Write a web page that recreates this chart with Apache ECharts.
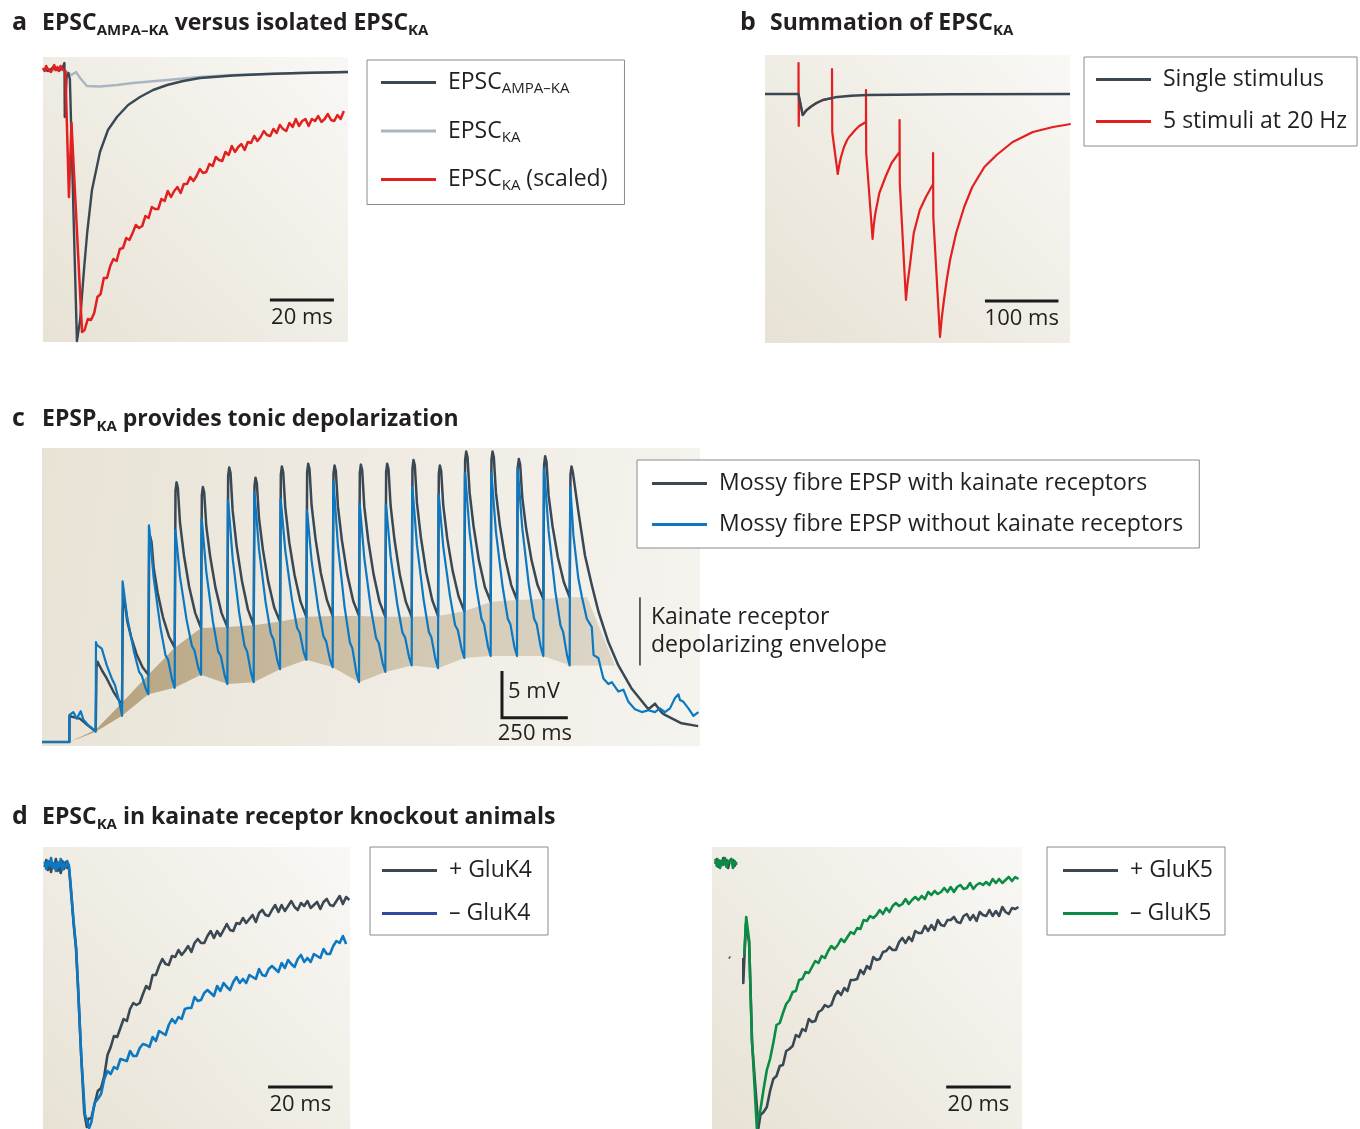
<!DOCTYPE html>
<html><head><meta charset="utf-8">
<script src="https://cdn.jsdelivr.net/npm/echarts@6/dist/echarts.min.js"></script>
<style>html,body{margin:0;padding:0;background:#fff}#c{width:1360px;height:1129px}</style>
</head><body><div id="c"></div>
<script>
// ---------------- DATA ----------------
// Panel a (x: ms, y: pA relative to baseline)
const aAmpaKa = [[0,1],[1.5,-1],[3,2],[4.5,0],[6,1],[6.6,2],[6.7,7],[6.8,-47],[7.4,-6],[7.9,-3],[8.4,-9],[10.6,-271],[11.6,-250],[12.8,-200],[13.8,-163],[15.3,-120],[17.8,-82],[20.3,-60],[23.1,-47],[26.6,-35],[30.3,-27],[34.4,-20],[38.8,-15],[43.8,-11],[49.1,-8],[59.4,-5.5],[70,-4],[80.3,-3],[95.3,-2]];
const aKa = [[0,0],[6.5,0],[8.9,-5],[10.3,-2],[11.6,-8],[13.7,-16],[17.8,-16.5],[23.1,-15],[28.1,-13],[38.8,-10],[49.1,-7],[59.4,-5],[70,-4],[80.3,-3],[95.3,-2]];
const aKaScaled = [[0,2],[0.5,-1],[1,4],[1.5,1],[2,3],[2.5,-2],[3,2],[3.5,5],[4,0],[4.5,3],[5,-1],[5.5,4],[6,1],[6.5,3],[7,-1],[7.3,0],[8.1,-127],[8.9,-53],[12.2,-262],
 [13,-260],[14,-249],[15,-250],[16,-243],[17,-227],[18,-224],[19,-208],[20,-208],[21,-196],[22,-189],[23,-191],[24,-179],[25,-178],[26,-168],[27,-170],[28,-163],[29,-155],[30,-158],[31,-156],[32,-146],[33,-148],[34,-137],[35,-139],[36,-139],[37,-129],[38,-131],[39,-121],[40,-127],[41,-121],[42,-117],[43,-123],[44,-114],[45,-114],[46,-107],[47,-111],[48,-106],[49,-99],[50,-103],[51,-102],[52,-94],[53,-96],[54,-87],[55,-90],[56,-91],[57,-82],[58,-85],[59,-76],[60,-82],[61,-77],[62,-74],[63,-80],[64,-72],[65,-73],[66,-66],[67,-71],[68,-67],[69,-61],[70,-65],[71,-66],[72,-59],[73,-63],[74,-55],[75,-59],[76,-61],[77,-53],[78,-57],[79,-49],[80,-56],[81,-51],[82,-49],[83,-56],[84,-49],[85,-51],[86,-46],[87,-52],[88,-49],[89,-44],[90,-50],[91,-51],[92,-45],[93,-49],[94,-41]];
const aScaleBar = [[70.9,-230],[90.9,-230]];

// Panel b (x: ms, y: pA)
const bSingle = [[0,0],[45.6,0],[51.3,-21],[56,-16.5],[62.3,-12.7],[70,-9],[78.8,-6],[95.2,-3.3],[117,-1.7],[139.2,-1],[251.7,-0.3],[415,0]];
const bTrain = [[0,0],[45.6,0],[45.6,31],[45.9,-32],[46.4,-4],[51.3,-21],[56,-16.5],[62.3,-12.7],[70,-9],[78.8,-6],[91.2,-4],
 [91.2,25],[91.5,-38],[99,-80],[101,-71],[103.4,-63],[107.5,-53],[111.7,-46],[114.4,-43],[122.7,-36],[128.2,-32],[137.4,-28],
 [137.4,4],[137.7,-59],[146.4,-145],[148,-131],[150.2,-119],[155.6,-99],[163.9,-83],[172.2,-69],[183.1,-58],
 [183.1,-26],[183.4,-89],[191.8,-206],[194,-189],[196.9,-173],[202.4,-139],[210.6,-116],[218.9,-103],[228.7,-90],
 [228.7,-59],[229,-123],[238.1,-243],[240.5,-224],[243.5,-206],[247.5,-185],[251.8,-166],[260.1,-139],[271,-113],[282,-93],[298.5,-73],[315.1,-61],[337,-48],[364.5,-38],[392,-33],[416,-30]];
const bScaleBar = [[299.3,-207],[399.3,-207]];

// Panel c (x: ms, y: mV above rest)
const cWithKA = [[-4,0],[100,0],[100.5,2.8],[110,2.7],[140,2.5],[170,1.8],[192,1.3],
 [200,1.3],[203,8.0],[207,8.6],[212,8.3],[225,7.6],[242,6.8],[267,5.4],[292,4.3],
 [300,4.2],[303,14.3],[307,15.2],[312,14.6],[320,12.9],[335,11.2],[355,9.4],[378,8.0],
 [400,7.2],[403,21.1],[407,22.0],[412,21.4],[420,18.7],[435,16.0],[455,13.4],[478,11.3],
 [500,10.1],[503,26.9],[507,27.8],[512,27.2],[520,23.5],[535,20.0],[555,16.6],[578,13.8],
 [600,12.2],[603,26.4],[607,27.3],[612,26.7],[620,23.1],[635,19.8],[655,16.5],[678,13.8],
 [700,12.3],[703,28.5],[707,29.4],[712,28.8],[720,24.8],[735,21.0],[755,17.3],[778,14.2],
 [800,12.5],[803,27.4],[807,28.3],[812,27.7],[820,24.0],[835,20.6],[855,17.2],[878,14.4],
 [900,12.9],[903,28.6],[907,29.5],[912,28.9],[920,25.1],[935,21.4],[955,17.9],[978,15.0],
 [1000,13.4],[1003,28.9],[1007,29.8],[1012,29.2],[1020,25.3],[1035,21.7],[1055,18.1],[1078,15.2],
 [1100,13.5],[1103,28.7],[1107,29.6],[1112,29.0],[1120,25.2],[1135,21.6],[1155,18.0],[1178,15.1],
 [1200,13.5],[1203,28.8],[1207,29.7],[1212,29.1],[1220,25.2],[1235,21.6],[1255,18.0],[1278,15.0],
 [1300,13.4],[1303,28.9],[1307,29.8],[1312,29.2],[1320,25.3],[1335,21.6],[1355,17.9],[1378,15.0],
 [1400,13.4],[1403,29.3],[1407,30.2],[1412,29.6],[1420,25.6],[1435,21.9],[1455,18.2],[1478,15.2],
 [1500,13.5],[1503,28.7],[1507,29.6],[1512,29.0],[1520,25.3],[1535,21.8],[1555,18.4],[1578,15.6],
 [1600,14.0],[1603,30.2],[1607,31.1],[1612,30.5],[1620,26.7],[1635,23.1],[1655,19.5],[1678,16.6],
 [1700,15.0],[1703,30.2],[1707,31.1],[1712,30.5],[1720,26.7],[1735,23.2],[1755,19.7],[1778,16.8],
 [1800,15.2],[1803,29.4],[1807,30.3],[1812,29.7],[1820,26.2],[1835,22.8],[1855,19.5],[1878,16.8],
 [1900,15.3],[1903,29.7],[1907,30.6],[1912,30.0],[1920,26.4],[1935,23.1],[1955,19.8],[1978,17.1],
 [2000,15.5],[2003,28.6],[2007,29.5],[2012,28.9],[2033,24.7],[2058,20.0],[2084,16.8],[2109,14.0],[2147,10.7],[2185,8.2],[2236,5.7],[2299,3.5],[2324,4.1],[2351,3.1],[2362,2.9],[2425,2.0],[2488,1.7]];
const cWithoutKA = [[-4,0],[100,0],[100.5,2.9],[115,3.2],[128,2.5],[143,3.3],[153,2.4],[175,1.7],
 [200,1.1],[201,10.7],[204,10.4],[223,10.0],[242,8.2],[261,6.8],[273,6.1],[288,4.5],
 [300,2.8],[302,17.2],[304,16.8],[320,13.3],[345,9.7],[365,7.5],[375,7.1],[390,5.7],
 [400,5.1],[402,23.2],[404,22.8],[420,17.6],[445,12.4],[465,9.3],[475,8.8],[490,6.7],
 [500,5.8],[502,22.7],[504,22.3],[520,17.7],[545,13.1],[565,10.3],[575,9.8],[590,7.9],
 [600,7.2],[602,23.9],[604,23.5],[620,18.2],[645,12.9],[665,9.7],[675,9.2],[690,7.1],
 [700,6.2],[702,25.9],[704,25.5],[720,19.7],[745,13.8],[765,10.3],[775,9.7],[790,7.4],
 [800,6.4],[802,26.7],[804,26.3],[820,20.7],[845,15.0],[865,11.6],[875,11.0],[890,8.7],
 [900,7.8],[902,26.0],[904,25.6],[920,20.5],[945,15.3],[965,12.2],[975,11.7],[990,9.6],
 [1000,8.8],[1002,24.8],[1004,24.4],[1020,19.4],[1045,14.3],[1065,11.3],[1075,10.8],[1090,8.8],
 [1100,8.0],[1102,27.9],[1104,27.5],[1120,21.0],[1145,14.5],[1165,10.7],[1175,10.0],[1190,7.4],
 [1200,6.4],[1202,25.5],[1204,25.1],[1220,19.7],[1245,14.3],[1265,11.1],[1275,10.6],[1290,8.4],
 [1300,7.5],[1302,25.4],[1304,25.0],[1320,19.9],[1345,14.8],[1365,11.7],[1375,11.2],[1390,9.1],
 [1400,8.2],[1402,27.3],[1404,26.9],[1420,21.1],[1445,15.3],[1465,11.8],[1475,11.2],[1490,8.9],
 [1500,7.9],[1502,26.5],[1504,26.1],[1520,20.9],[1545,15.7],[1565,12.5],[1575,12.0],[1590,9.9],
 [1600,9.0],[1602,28.8],[1604,28.4],[1620,22.5],[1645,16.7],[1665,13.2],[1675,12.6],[1690,10.2],
 [1700,9.2],[1702,28.8],[1704,28.4],[1720,22.5],[1745,16.7],[1765,13.2],[1775,12.6],[1790,10.2],
 [1800,9.2],[1802,29.3],[1804,28.9],[1820,22.9],[1845,16.8],[1865,13.2],[1875,12.6],[1890,10.2],
 [1900,9.2],[1902,29.3],[1904,28.9],[1920,22.6],[1945,16.2],[1965,12.5],[1975,11.8],[1990,9.3],
 [2000,8.2],[2002,27.2],[2004,26.8],[2014,22.2],[2033,17.5],[2046,15.6],[2052,15.5],[2065,13.2],[2084,12.3],[2091,9.3],[2109,9.0],[2128,6.8],[2147,6.2],[2160,6.4],[2185,5.4],[2204,5.6],[2223,4.3],[2248,3.5],[2274,3.2],[2299,3.4],[2324,3.2],[2343,3.6],[2362,3.2],[2381,3.6],[2400,4.7],[2413,5.1],[2419,4.5],[2432,4.3],[2451,3.6],[2470,2.8],[2489,3.2]];
const cEnvelopeTop = [[100,0],[200,1.3],[300,4.2],[400,7.2],[500,10.1],[600,12.2],[700,12.3],[800,12.5],[900,12.9],[1000,13.4],[1100,13.5],[1200,13.5],[1300,13.4],[1400,13.4],[1500,13.5],[1600,14.0],[1700,15.0],[1800,15.2],[1900,15.3],[2000,15.5],[2066,15.5],[2172,8.2]];
const cEnvelopeBottom = [[2000,8.2],[1900,9.2],[1800,9.2],[1700,9.2],[1600,9.0],[1500,7.9],[1400,8.2],[1300,7.5],[1200,6.4],[1100,8.0],[1000,8.8],[900,7.8],[800,6.4],[700,6.2],[600,7.2],[500,5.8],[400,5.1],[300,2.8],[200,1.1]];
const cEnvelopeBracket = [[2267,8.2],[2267,15.5]];
const cScaleBar = [[1743,7.6],[1743,2.6],[1993,2.6]];

// Panel d left (x: ms, y: pA)
const dGluK4Plus = [[0.5,-3],[1,4],[1.5,-6],[2,2],[2.5,-8],[3,1],[3.5,-4],[4,5],[4.5,-7],[5,-1],[5.5,-9],[6,3],[6.5,-5],[7,2],[7.5,-4],[8,-1],
 [8.5,-20],[9.5,-60],[10.2,-83],[10.8,-119],[11.8,-189],[12.8,-249],[13.6,-263],
 [14,-255],[15,-254],[16,-240],[17,-227],[18,-224],[19,-212],[20,-191],[21,-183],[22,-172],[23,-173],[24,-164],[25,-155],[26,-157],[27,-145],[28,-139],[29,-141],[30,-139],[31,-130],[32,-122],[33,-125],[34,-111],[35,-111],[36,-102],[37,-95],[38,-100],[39,-101],[40,-92],[41,-93],[42,-86],[43,-91],[44,-87],[45,-82],[46,-88],[47,-79],[48,-75],[49,-79],[50,-79],[51,-72],[52,-67],[53,-74],[54,-67],[55,-72],[56,-66],[57,-60],[58,-66],[59,-67],[60,-59],[61,-60],[62,-54],[63,-59],[64,-55],[65,-51],[66,-58],[67,-49],[68,-46],[69,-51],[70,-52],[71,-46],[72,-41],[73,-48],[74,-41],[75,-47],[76,-42],[77,-37],[78,-43],[79,-46],[80,-39],[81,-42],[82,-37],[83,-44],[84,-41],[85,-38],[86,-45],[87,-38],[88,-35],[89,-41],[90,-42],[91,-37],[92,-32],[93,-40],[94,-33],[95,-36]];
const dGluK4Minus = [[0.5,2],[1,-5],[1.5,3],[2,-2],[2.5,6],[3,-4],[3.5,1],[4,-7],[4.5,2],[5,-3],[5.5,5],[6,-6],[6.5,0],[7,-3],[7.5,3],[8,-2],
 [8.5,-18],[9.5,-58],[10.3,-85],[10.9,-125],[11.9,-195],[13,-250],[14.3,-264],
 [15,-258],[16,-239],[17,-235],[18,-230],[19,-215],[20,-207],[21,-210],[22,-203],[23,-205],[24,-195],[25,-196],[26,-197],[27,-187],[28,-192],[29,-192],[30,-184],[31,-180],[32,-181],[33,-183],[34,-173],[35,-177],[36,-167],[37,-169],[38,-171],[39,-161],[40,-155],[41,-159],[42,-153],[43,-155],[44,-145],[45,-144],[46,-144],[47,-133],[48,-137],[49,-136],[50,-129],[51,-126],[52,-129],[53,-132],[54,-122],[55,-127],[56,-119],[57,-123],[58,-126],[59,-118],[60,-113],[61,-119],[62,-115],[63,-119],[64,-111],[65,-113],[66,-115],[67,-105],[68,-111],[69,-112],[70,-105],[71,-102],[72,-105],[73,-108],[74,-99],[75,-104],[76,-96],[77,-100],[78,-103],[79,-95],[80,-91],[81,-98],[82,-94],[83,-98],[84,-90],[85,-92],[86,-94],[87,-85],[88,-90],[89,-90],[90,-82],[91,-77],[92,-79],[93,-72],[94,-80]];
const dLeftScaleBar = [[69.8,-223],[89.8,-223]];

// Panel d right (x: ms, y: pA)
const dGluK5Plus = [[1,-2],[1.5,3],[2,-5],[2.5,1],[3,-3],[3.5,4],[4,-2],[4.5,2],[5,-6],[5.5,1],[6,-1],[6.5,2],[7,-4],[7.6,0],[8,null],
 [5.3,-95],[5.6,-96],[6,null],
 [9.7,-96],[9.7,-121],[10.5,-62],[11.5,-80],[12.4,-180],[14.4,-266],
 [15,-253],[16,-250],[17,-245],[18,-229],[19,-217],[20,-214],[21,-204],[22,-203],[23,-189],[24,-187],[25,-184],[26,-173],[27,-175],[28,-167],[29,-169],[30,-157],[31,-160],[32,-159],[33,-150],[34,-148],[35,-143],[36,-145],[37,-143],[38,-134],[39,-129],[40,-133],[41,-126],[42,-129],[43,-118],[44,-118],[45,-117],[46,-108],[47,-112],[48,-104],[49,-107],[50,-95],[51,-98],[52,-97],[53,-90],[54,-89],[55,-85],[56,-88],[57,-88],[58,-80],[59,-76],[60,-81],[61,-75],[62,-79],[63,-69],[64,-71],[65,-71],[66,-64],[67,-69],[68,-63],[69,-68],[70,-58],[71,-63],[72,-64],[73,-58],[74,-58],[75,-55],[76,-60],[77,-61],[78,-54],[79,-52],[80,-58],[81,-53],[82,-59],[83,-50],[84,-53],[85,-54],[86,-48],[87,-54],[88,-49],[89,-54],[90,-45],[91,-50],[92,-52],[93,-46],[94,-47],[95,-45]];
const dGluK5Minus = [[1,3],[1.5,-4],[2,2],[2.5,-6],[3,1],[3.5,-3],[4,4],[4.5,-5],[5,0],[5.5,-2],[6,3],[6.5,-6],[7,1],[7.6,-3],[8,null],
 [10.0,-93],[10.6,-55],[11.0,-53],[11.5,-78],[12.4,-178],[13.9,-266],
 [14,-260],[15,-248],[16,-227],[17,-208],[18,-197],[19,-181],[20,-163],[21,-161],[22,-151],[23,-142],[24,-138],[25,-130],[26,-129],[27,-118],[28,-117],[29,-110],[30,-111],[31,-105],[32,-99],[33,-101],[34,-94],[35,-96],[36,-89],[37,-84],[38,-87],[39,-83],[40,-77],[41,-80],[42,-75],[43,-70],[44,-72],[45,-66],[46,-67],[47,-58],[48,-59],[49,-54],[50,-56],[51,-53],[52,-48],[53,-52],[54,-46],[55,-50],[56,-44],[57,-41],[58,-44],[59,-42],[60,-37],[61,-42],[62,-38],[63,-35],[64,-38],[65,-34],[66,-37],[67,-30],[68,-33],[69,-29],[70,-32],[71,-30],[72,-26],[73,-30],[74,-25],[75,-30],[76,-25],[77,-23],[78,-27],[79,-26],[80,-21],[81,-27],[82,-23],[83,-21],[84,-23],[85,-20],[86,-23],[87,-17],[88,-21],[89,-17],[90,-21],[91,-18],[92,-15],[93,-19],[94,-15],[95,-17]];
const dRightScaleBar = [[72.6,-225],[92.6,-225]];

// ---------------- STYLE ----------------
const FONT = '"Open Sans", "Noto Sans", sans-serif';
const INK = '#231f20';
const DARK = '#3a4853', LIGHT = '#a9b6bf', RED = '#e1201f', BLUE = '#0b78c1', GREEN = '#0b8c45', BLUE_LEG = '#2d4a9d';

const chart = echarts.init(document.getElementById('c'), null, {renderer: 'canvas'});
const G = echarts.graphic;
function bg(stops, x, y, x2, y2) {
  return new G.LinearGradient(x, y, x2, y2, stops.map((c, i) => ({offset: i / (stops.length - 1), color: c})));
}
function trace(name, data, color, gi, width, z) {
  return {type: 'line', name, data, xAxisIndex: gi, yAxisIndex: gi, symbol: 'none', showSymbol: false,
    color, lineStyle: {color, width: width || 2.4, join: 'round'}, itemStyle: {color},
    z: z || 2, silent: true, animation: false, connectNulls: false};
}
function bar(data, gi) {
  return {type: 'line', data, xAxisIndex: gi, yAxisIndex: gi, symbol: 'none', color: '#1b1b1b',
    lineStyle: {color: '#1b1b1b', width: 3, join: 'miter', cap: 'butt'}, z: 5, silent: true, animation: false};
}
function label(text, pt, gi, pos, dist, size, lh) {
  return {type: 'scatter', data: [pt], xAxisIndex: gi, yAxisIndex: gi, symbolSize: 0,
    itemStyle: {color: INK, opacity: 1}, silent: true, animation: false, z: 6,
    label: {show: true, formatter: text, position: pos, distance: dist, fontSize: size || 22, lineHeight: lh || 27,
      color: INK, opacity: 1, fontFamily: FONT, align: pos === 'right' ? 'left' : 'center'}};
}
function mid(a) { return [(a[0][0] + a[a.length - 1][0]) / 2, a[a.length - 1][1]]; }

const grids = [
  {left: 43, top: 57, width: 305, height: 285},
  {left: 765, top: 55, width: 305, height: 288},
  {left: 42, top: 448, width: 658, height: 298},
  {left: 43, top: 847, width: 307, height: 282},
  {left: 712, top: 847, width: 310, height: 282}
].map(g => Object.assign(g, {show: true, borderWidth: 0,
  backgroundColor: bg(['#e7e2d4', '#f0ede5', '#f9f8f5'], 0, 1, 1, 0)}));
grids[2].backgroundColor = bg(['#e8e3d5', '#efebe2', '#f5f3ee'], 0, 0, 1, 0.3);

const xr = [[0, 95.3], [0, 415], [-4, 2495], [0, 95.2], [0, 96.1]];
const yr = [[-272, 13], [-249, 39], [-0.43, 31.48], [-265, 17], [-267, 15]];
const xAxis = xr.map((r, i) => ({type: 'value', gridIndex: i, min: r[0], max: r[1], show: false}));
const yAxis = yr.map((r, i) => ({type: 'value', gridIndex: i, min: r[0], max: r[1], show: false}));

const NAMES = {
  'EPSC AMPA–KA': '{f|EPSC}{s|AMPA–KA}',
  'EPSC KA': '{f|EPSC}{s|KA}',
  'EPSC KA (scaled)': '{f|EPSC}{s|KA}{m| (scaled)}'
};
const legRich = {
  f: {fontFamily: FONT, fontSize: 23, lineHeight: 28, color: INK, padding: [0, 0, 0, 7]},
  m: {fontFamily: FONT, fontSize: 23, lineHeight: 28, color: INK},
  s: {fontFamily: FONT, fontSize: 15, lineHeight: 14, color: INK, verticalAlign: 'bottom'}
};
function legend(data, left, top, gap, padding) {
  return {data, orient: 'vertical', left, top, itemGap: gap, padding, icon: 'rect',
    itemWidth: 55, itemHeight: 3, borderColor: '#8a8a8a', borderWidth: 1, backgroundColor: '#ffffff',
    selectedMode: false, z: 8,
    formatter: n => NAMES[n] || ('{f|' + n + '}'),
    textStyle: {fontFamily: FONT, fontSize: 23, color: INK, rich: legRich}};
}

const tRich = {
  l: {fontFamily: FONT, fontWeight: 'bold', fontSize: 25, lineHeight: 30, width: 30, color: INK},
  m: {fontFamily: FONT, fontWeight: 'bold', fontSize: 23, lineHeight: 30, color: INK},
  s: {fontFamily: FONT, fontWeight: 'bold', fontSize: 15, lineHeight: 15, verticalAlign: 'bottom', color: INK}
};
function title(text, left, top) {
  return {text, left, top, padding: 0, textStyle: {rich: tRich, fontFamily: FONT}};
}

const envPoly = cEnvelopeTop.concat(cEnvelopeBottom);

const option = {
  animation: false,
  backgroundColor: '#ffffff',
  textStyle: {fontFamily: FONT},
  title: [
    title('{l|a}{m|EPSC}{s|AMPA–KA}{m| versus isolated EPSC}{s|KA}', 12, 8),
    title('{l|b}{m|Summation of EPSC}{s|KA}', 740, 8),
    title('{l|c}{m|EPSP}{s|KA}{m| provides tonic depolarization}', 12, 404),
    title('{l|d}{m|EPSC}{s|KA}{m| in kainate receptor knockout animals}', 12, 802)
  ],
  grid: grids,
  xAxis, yAxis,
  legend: [
    legend(['EPSC AMPA–KA', 'EPSC KA', 'EPSC KA (scaled)'], 367, 60, 23, [11, 17, 11, 14]),
    legend(['Single stimulus', '5 stimuli at 20 Hz'], 1084, 57, 19, [11, 10, 13, 12]),
    legend(['Mossy fibre EPSP with kainate receptors', 'Mossy fibre EPSP without kainate receptors'], 637, 460, 18, [12, 16, 12, 15]),
    legend(['+ GluK4', {name: '– GluK4', itemStyle: {color: BLUE_LEG}}], 370, 847, 20, [12, 16, 10, 12]),
    legend(['+ GluK5', '– GluK5'], 1047, 847, 20, [12, 12, 10, 16])
  ],
  series: [
    // a
    trace('EPSC KA', aKa, LIGHT, 0, 2.4),
    trace('EPSC AMPA–KA', aAmpaKa, DARK, 0, 2.4),
    trace('EPSC KA (scaled)', aKaScaled, RED, 0, 2.5, 3),
    bar(aScaleBar, 0), label('20 ms', mid(aScaleBar), 0, 'bottom', 4),
    // b
    trace('5 stimuli at 20 Hz', bTrain, RED, 1, 2.2, 2),
    trace('Single stimulus', bSingle, DARK, 1, 2.4, 3),
    bar(bScaleBar, 1), label('100 ms', mid(bScaleBar), 1, 'bottom', 4),
    // c
    {type: 'custom', xAxisIndex: 2, yAxisIndex: 2, data: [[0, 0]], silent: true, z: 1, animation: false,
      renderItem: (p, api) => ({type: 'polygon', shape: {points: envPoly.map(q => api.coord(q))},
        style: {fill: bg(['#b19d78', '#c4b597', '#d3c9b4', '#ddd6c7'], 0, 0, 1, 0)}})},
    trace('Mossy fibre EPSP with kainate receptors', cWithKA, DARK, 2, 2.5),
    trace('Mossy fibre EPSP without kainate receptors', cWithoutKA, BLUE, 2, 2.2, 3),
    bar(cScaleBar, 2),
    label('5 mV', [cScaleBar[0][0], 5.4], 2, 'right', 6),
    label('250 ms', [(cScaleBar[1][0] + cScaleBar[2][0]) / 2, cScaleBar[2][1]], 2, 'bottom', 3),
    {type: 'line', data: cEnvelopeBracket, xAxisIndex: 2, yAxisIndex: 2, symbol: 'none', silent: true,
      lineStyle: {color: '#333', width: 1.5}, z: 5, animation: false},
    label('Kainate receptor\ndepolarizing envelope', [cEnvelopeBracket[0][0], 11.85], 2, 'right', 11, 23, 28),
    // d left
    trace('+ GluK4', dGluK4Plus, DARK, 3, 2.6),
    trace('– GluK4', dGluK4Minus, BLUE, 3, 2.6, 3),
    bar(dLeftScaleBar, 3), label('20 ms', mid(dLeftScaleBar), 3, 'bottom', 4),
    // d right
    trace('+ GluK5', dGluK5Plus, DARK, 4, 2.6),
    trace('– GluK5', dGluK5Minus, GREEN, 4, 2.6, 3),
    bar(dRightScaleBar, 4), label('20 ms', mid(dRightScaleBar), 4, 'bottom', 4)
  ]
};
chart.setOption(option);
</script></body></html>
